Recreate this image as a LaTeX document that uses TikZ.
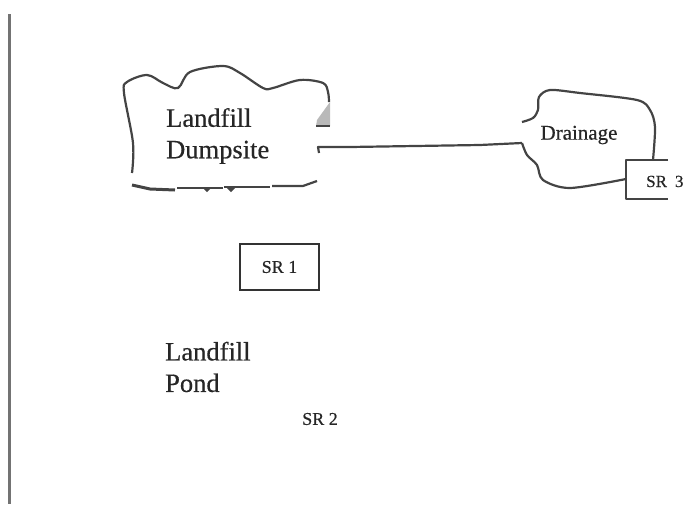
\documentclass[tikz,border=0pt]{standalone}
\usepackage{fontspec}
\setmainfont[RawFeature={embolden=0.5}]{Liberation Serif}
\usepackage{tikz}
\usetikzlibrary{positioning,calc}
\definecolor{inkgray}{HTML}{444444}
\begin{document}
\begin{tikzpicture}[x=1pt,y=-1pt,
  outline/.style={draw=inkgray,line width=2.2pt,line join=round},
  biglabel/.style={align=left,inner sep=0pt,text=black!85,font=\fontsize{26.5}{31.5}\selectfont},
  srlabel/.style={inner sep=0pt,text=black!85,font=\fontsize{18}{20}\selectfont},
  srbox/.style={draw=black!80,line width=2pt,minimum width=79pt,minimum height=46pt,inner sep=0pt}]
\useasboundingbox (0,0) rectangle (699,504);
\fill[gray!55] (317,120) -- (330,102) -- (330,126) -- (316,126) -- cycle;
\draw[outline] (316,126) -- (330,126);
\node[biglabel,anchor=west] (dumpsite) at (166,136) {Landfill\\Dumpsite};
\node[biglabel,anchor=west] (pond) at (165,367) {Landfill\\Pond};
\node[srlabel,font=\fontsize{21}{23}\selectfont] (drainage) at (579,135) {Drainage};
\node[srbox,srlabel] (sr1) at (279.5,267) {SR 1};
\node[srlabel] (sr2) at (320,419) {SR 2};
\node[srlabel,anchor=base west,font=\fontsize{17}{18}\selectfont] (sr3) at (646,187) {SR\hspace{8pt}3};
% site outlines
\draw[outline] plot[smooth,tension=0.55] coordinates {(132,173) (133,143) (124,93) (127,82) (147,75) (163,83) (178,88) (190,72) (223,66) (240,73) (263,88) (273,88) (300,80) (323,83) (328,92) (329,102)};
\draw[outline,line width=3pt] (132,185) -- (150,189) -- (175,190);
\draw[outline] (177,188) -- (223,188);
\draw[outline] (224,187) -- (270,187);
\draw[outline] (272,186) -- (303,186) -- (317,181);
\fill[inkgray] (203,188) -- (211,188) -- (207,192) -- cycle;
\fill[inkgray] (227,188) -- (235,188) -- (231,192) -- cycle;
\draw[outline] plot[smooth,tension=0.5] coordinates {(522,122) (533,118) (538,110) (539,97) (550,90) (580,93) (637,100) (650,110) (655,127) (653,160)};
\draw[outline] plot[smooth,tension=0.5] coordinates {(522,143) (527,155) (537,165) (543,180) (570,188) (626,179)};
\draw[outline,line width=1.8pt] (668,160) -- (626,160) -- (626,199) -- (668,199);
% connector and margin rule
\coordinate (siteend) at (319,153);
\coordinate (sitecorner) at (318,147);
\coordinate (drainend) at (522,143);
\draw[outline] (siteend) -- (sitecorner) -- (350,147) -- (480,145) -- (drainend);
\coordinate (ruletop) at (9.5,14);
\coordinate (rulebottom) at (9.5,504);
\draw[gray!90!black,line width=3pt] (ruletop) -- (rulebottom);
\end{tikzpicture}
\end{document}
